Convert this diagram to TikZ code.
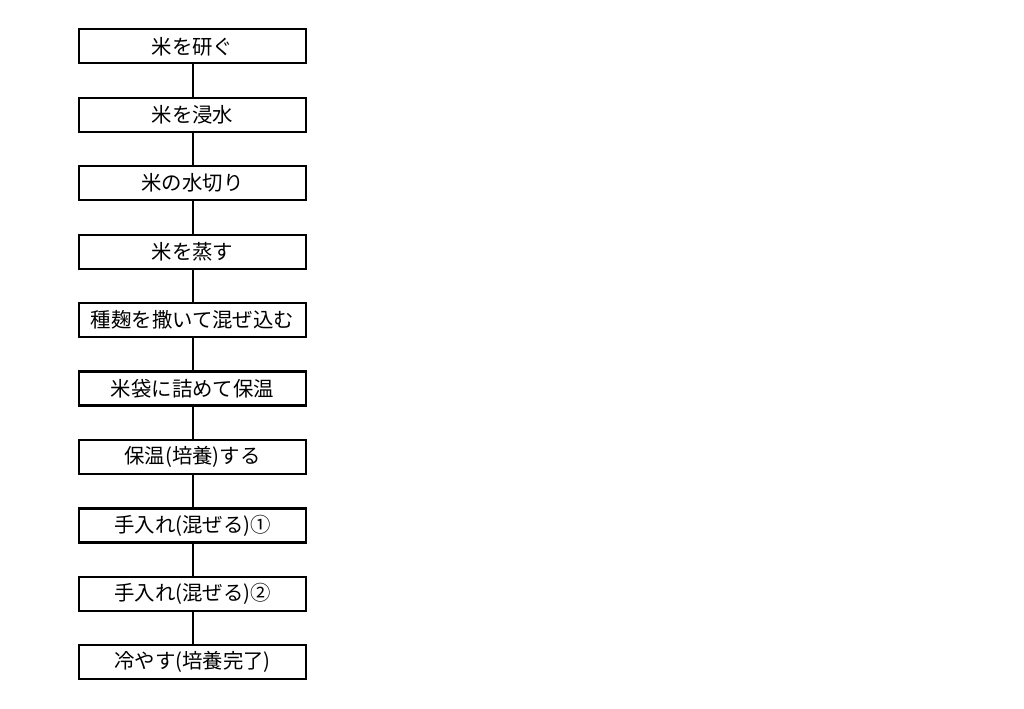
\documentclass[tikz,border=0pt]{standalone}
\usepackage{fontspec}
\setmainfont{Noto Sans CJK JP}
\begin{document}
\begin{tikzpicture}[x=0.75pt,y=-0.75pt,
  stepbox/.style={draw=black,line width=1.6pt,minimum width=227*0.75pt,minimum height=34*0.75pt,inner sep=0pt,font=\fontsize{15.3pt}{17pt}\selectfont},
  link/.style={line width=1.5pt}]
\useasboundingbox (0,0) rectangle (1024,708);
\foreach \t [count=\i] in {米を研ぐ,米を浸水,米の水切り,米を蒸す,種麹を撒いて混ぜ込む,米袋に詰めて保温,保温(培養)する,手入れ(混ぜる)①,手入れ(混ぜる)②,冷やす(培養完了)}{
  \node[stepbox] (n\i) at (192.5,{46.3+(\i-1)*68.45}) {\t};
}
\foreach \a/\b in {1/2,2/3,3/4,4/5,5/6,6/7,7/8,8/9,9/10}{
  \draw[link] (n\a) -- (n\b);
}
\end{tikzpicture}
\end{document}
